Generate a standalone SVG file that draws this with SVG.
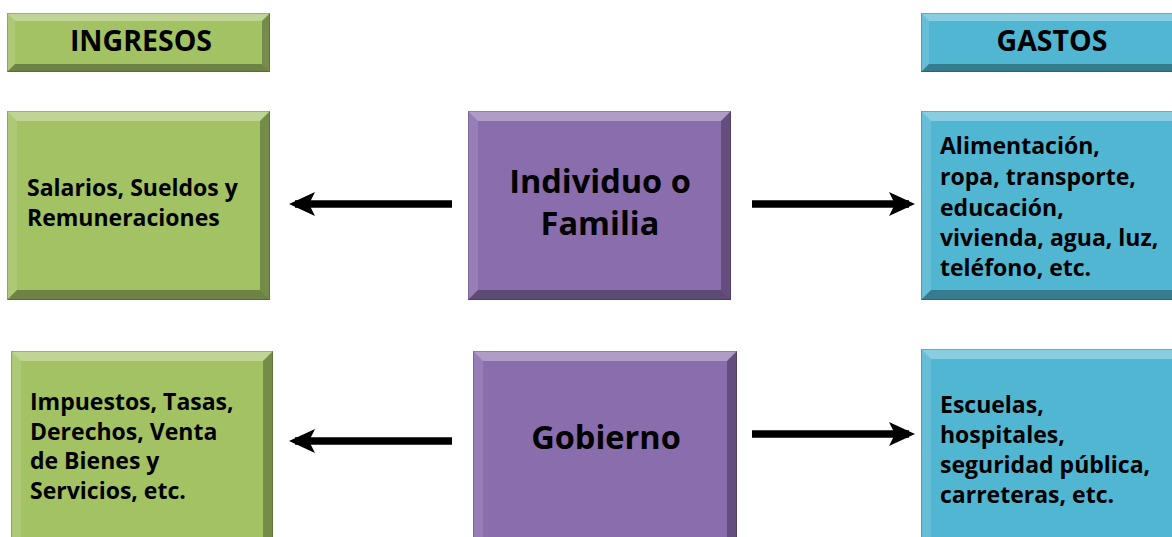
<svg xmlns="http://www.w3.org/2000/svg" width="1172" height="537" viewBox="0 0 1172 537">
<style>
  .green { fill: #A3C264; }
  .purple { fill: #8A6DAD; }
  .blue { fill: #51B6D2; }
  .bt { fill: #ffffff; fill-opacity: 0.32; }
  .bl { fill: #ffffff; fill-opacity: 0.12; }
  .br { fill: #000000; fill-opacity: 0.28; }
  .bb { fill: #000000; fill-opacity: 0.32; }
  .edge { fill: none; stroke: #000; stroke-opacity: 0.18; stroke-width: 1; }
  text { font-family: "Open Sans", "Liberation Sans", sans-serif; font-weight: 700; fill: #000; }
  .hdr { font-size: 28.5px; text-anchor: middle; }
  .big { font-size: 32.5px; text-anchor: middle; }
  .body { font-size: 23px; }
  .conn { stroke: #000; stroke-width: 7.5; fill: none; marker-end: url(#ah); }
</style>
<defs>
  <marker id="ah" markerUnits="userSpaceOnUse" markerWidth="26" markerHeight="24" viewBox="0 0 26 24" refX="20" refY="12" orient="auto">
    <path d="M0,0 L26,12 L0,24 L6,12 Z" fill="#000"/>
  </marker>
</defs>
<rect x="0" y="0" width="1172" height="537" fill="#ffffff"/>

<g id="ingresos">
  <rect class="green" x="7" y="13" width="263" height="59"/>
  <polygon class="bt" points="7,13 270,13 262,21 15,21"/>
  <polygon class="bl" points="7,13 15,21 15,64 7,72"/>
  <polygon class="br" points="270,13 270,72 262,64 262,21"/>
  <polygon class="bb" points="7,72 15,64 262,64 270,72"/>
  <rect class="edge" x="7.5" y="13.5" width="262" height="58"/>
  <text class="hdr" x="141" y="51">INGRESOS</text>
</g>

<g id="gastos">
  <rect class="blue" x="921" y="13" width="262" height="59"/>
  <polygon class="bt" points="921,13 1183,13 1175,21 929,21"/>
  <polygon class="bl" points="921,13 929,21 929,64 921,72"/>
  <polygon class="bb" points="921,72 929,64 1175,64 1183,72"/>
  <rect class="edge" x="921.5" y="13.5" width="262" height="58"/>
  <text class="hdr" x="1052" y="51">GASTOS</text>
</g>

<g id="salarios">
  <rect class="green" x="7" y="111" width="263" height="189"/>
  <polygon class="bt" points="7,111 270,111 260,121 17,121"/>
  <polygon class="bl" points="7,111 17,121 17,290 7,300"/>
  <polygon class="br" points="270,111 270,300 260,290 260,121"/>
  <polygon class="bb" points="7,300 17,290 260,290 270,300"/>
  <rect class="edge" x="7.5" y="111.5" width="262" height="188"/>
  <text class="body" x="27" y="196">Salarios, Sueldos y</text>
  <text class="body" x="27" y="225.5">Remuneraciones</text>
</g>

<g id="individuo">
  <rect class="purple" x="468" y="111" width="263" height="189"/>
  <polygon class="bt" points="468,111 731,111 721,121 478,121"/>
  <polygon class="bl" points="468,111 478,121 478,290 468,300"/>
  <polygon class="br" points="731,111 731,300 721,290 721,121"/>
  <polygon class="bb" points="468,300 478,290 721,290 731,300"/>
  <rect class="edge" x="468.5" y="111.5" width="262" height="188"/>
  <text class="big" x="600" y="193">Individuo o</text>
  <text class="big" x="600" y="235">Familia</text>
</g>

<g id="alimentacion">
  <rect class="blue" x="921" y="111" width="262" height="189"/>
  <polygon class="bt" points="921,111 1183,111 1173,121 931,121"/>
  <polygon class="bl" points="921,111 931,121 931,290 921,300"/>
  <polygon class="bb" points="921,300 931,290 1173,290 1183,300"/>
  <rect class="edge" x="921.5" y="111.5" width="262" height="188"/>
  <text class="body" x="940" y="154">Alimentación,</text>
  <text class="body" x="940" y="185">ropa, transporte,</text>
  <text class="body" x="940" y="216">educación,</text>
  <text class="body" x="940" y="246">vivienda, agua, luz,</text>
  <text class="body" x="940" y="276">teléfono, etc.</text>
</g>

<g id="impuestos">
  <rect class="green" x="11" y="351" width="262" height="200"/>
  <polygon class="bt" points="11,351 273,351 263,361 21,361"/>
  <polygon class="bl" points="11,351 21,361 21,551 11,551"/>
  <polygon class="br" points="273,351 273,551 263,551 263,361"/>
  <rect class="edge" x="11.5" y="351.5" width="261" height="200"/>
  <text class="body" x="30" y="410">Impuestos, Tasas,</text>
  <text class="body" x="30" y="439.5">Derechos, Venta</text>
  <text class="body" x="30" y="469">de Bienes y</text>
  <text class="body" x="30" y="498.5">Servicios, etc.</text>
</g>

<g id="gobierno">
  <rect class="purple" x="473" y="351" width="264" height="200"/>
  <polygon class="bt" points="473,351 737,351 727,361 483,361"/>
  <polygon class="bl" points="473,351 483,361 483,551 473,551"/>
  <polygon class="br" points="737,351 737,551 727,551 727,361"/>
  <rect class="edge" x="473.5" y="351.5" width="263" height="200"/>
  <text class="big" x="606" y="449">Gobierno</text>
</g>

<g id="escuelas">
  <rect class="blue" x="921" y="349" width="262" height="200"/>
  <polygon class="bt" points="921,349 1183,349 1173,359 931,359"/>
  <polygon class="bl" points="921,349 931,359 931,549 921,549"/>
  <rect class="edge" x="921.5" y="349.5" width="262" height="200"/>
  <text class="body" x="940" y="413">Escuelas,</text>
  <text class="body" x="940" y="443">hospitales,</text>
  <text class="body" x="940" y="473">seguridad pública,</text>
  <text class="body" x="940" y="503">carreteras, etc.</text>
</g>

<g id="connectors">
  <line class="conn" x1="452" y1="204" x2="295" y2="204"/>
  <line class="conn" x1="752" y1="204" x2="909" y2="204"/>
  <line class="conn" x1="452" y1="441" x2="295" y2="441"/>
  <line class="conn" x1="752" y1="434" x2="909" y2="434"/>
</g>
</svg>
